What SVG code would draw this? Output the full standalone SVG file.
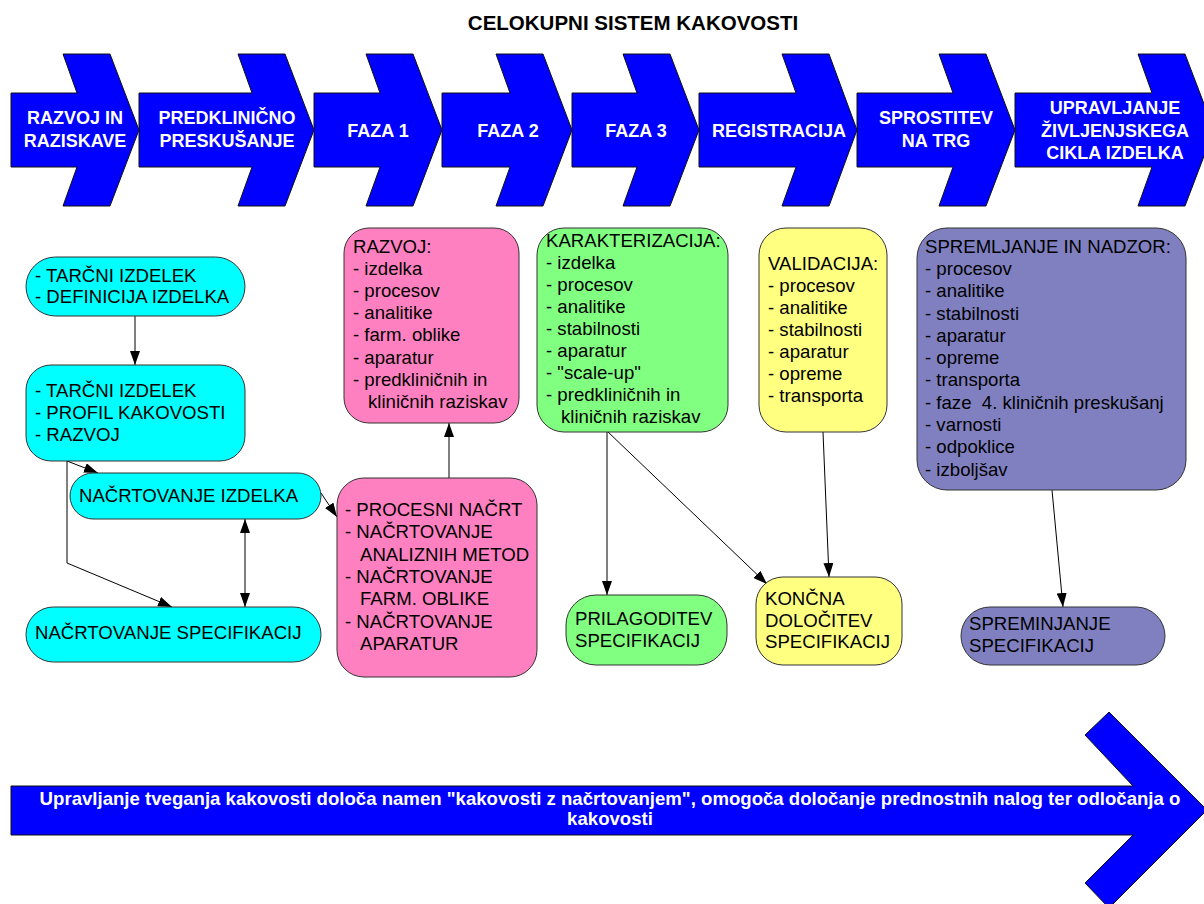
<svg xmlns="http://www.w3.org/2000/svg" width="1204" height="904" viewBox="0 0 1204 904">
<style>
.bar{fill:#0000FF;stroke:#111;stroke-width:1}
.bt{font-family:"Liberation Sans",Arial,sans-serif;font-weight:bold;font-size:18px;fill:#fff;text-anchor:middle}
.bl{font-size:18.6px}
.t{font-family:"Liberation Sans",Arial,sans-serif;font-size:18.6px;fill:#000}
.cy{fill:#00FFFF;stroke:#333;stroke-width:1}
.pk{fill:#FF80C0;stroke:#333;stroke-width:1}
.gr{fill:#80FF80;stroke:#333;stroke-width:1}
.ye{fill:#FFFF80;stroke:#333;stroke-width:1}
.pu{fill:#8080C0;stroke:#333;stroke-width:1}
.c{fill:none;stroke:#000;stroke-width:1}
</style>
<defs>
<marker id="ah" markerUnits="userSpaceOnUse" markerWidth="14" markerHeight="10" refX="14" refY="5" orient="auto-start-reverse">
<path d="M0,0 L14,5 L0,10 z" fill="#000"/>
</marker>
</defs>
<rect width="1204" height="904" fill="#fff"/>
<text x="633" y="30" font-family="Liberation Sans,Arial,sans-serif" font-weight="bold" font-size="20.5" text-anchor="middle">CELOKUPNI SISTEM KAKOVOSTI</text>

<g id="phase1"><polygon class="bar" points="11,93 77,93 63,54 110,54 139,130 110,206 63,206 77,167 11,167"/><text class="bt" x="75" y="124">RAZVOJ IN</text><text class="bt" x="75" y="147">RAZISKAVE</text></g>
<g id="phase2"><polygon class="bar" points="139,93 252,93 238,54 285,54 314,130 285,206 238,206 252,167 139,167"/><text class="bt" x="227" y="124">PREDKLINIČNO</text><text class="bt" x="227" y="147">PRESKUŠANJE</text></g>
<g id="phase3"><polygon class="bar" points="314,93 380,93 366,54 413,54 442,130 413,206 366,206 380,167 314,167"/><text class="bt" x="378" y="137">FAZA 1</text></g>
<g id="phase4"><polygon class="bar" points="442,93 510,93 496,54 543,54 572,130 543,206 496,206 510,167 442,167"/><text class="bt" x="508" y="137">FAZA 2</text></g>
<g id="phase5"><polygon class="bar" points="572,93 637,93 623,54 670,54 699,130 670,206 623,206 637,167 572,167"/><text class="bt" x="636" y="137">FAZA 3</text></g>
<g id="phase6"><polygon class="bar" points="699,93 796,93 782,54 829,54 857,130 829,206 782,206 796,167 699,167"/><text class="bt" x="779" y="137">REGISTRACIJA</text></g>
<g id="phase7"><polygon class="bar" points="857,93 953,93 939,54 986,54 1015,130 986,206 939,206 953,167 857,167"/><text class="bt" x="936" y="124">SPROSTITEV</text><text class="bt" x="936" y="147">NA TRG</text></g>
<g id="phase8"><polygon class="bar" points="1015,93 1152,93 1138,54 1185,54 1214,130 1185,206 1138,206 1152,167 1015,167"/><text class="bt" x="1115" y="114">UPRAVLJANJE</text><text class="bt" x="1115" y="137">ŽIVLJENJSKEGA</text><text class="bt" x="1115" y="159">CIKLA IZDELKA</text></g>

<g id="connectors">
<line class="c" x1="135" y1="316" x2="135" y2="365" marker-end="url(#ah)"/>
<line class="c" x1="67" y1="461" x2="98" y2="473" marker-end="url(#ah)"/>
<polyline class="c" points="67,461 67,563 172,607" marker-end="url(#ah)"/>
<line class="c" x1="245" y1="519" x2="245" y2="607" marker-start="url(#ah)" marker-end="url(#ah)"/>
<line class="c" x1="321" y1="493" x2="337" y2="517" marker-end="url(#ah)"/>
<line class="c" x1="449" y1="478" x2="449" y2="423" marker-end="url(#ah)"/>
<line class="c" x1="607" y1="432" x2="607" y2="595" marker-end="url(#ah)"/>
<line class="c" x1="608" y1="432" x2="767" y2="584" marker-end="url(#ah)"/>
<line class="c" x1="823" y1="432" x2="829" y2="577" marker-end="url(#ah)"/>
<line class="c" x1="1052" y1="490" x2="1063" y2="607" marker-end="url(#ah)"/>
</g>

<g id="nodeA"><rect class="cy" x="26" y="257" width="219" height="59" rx="29.5"/><text class="t" x="35" y="282">- TARČNI IZDELEK</text><text class="t" x="35" y="303">- DEFINICIJA IZDELKA</text></g>
<g id="nodeB"><rect class="cy" x="26" y="365" width="219" height="96" rx="25"/><text class="t" x="35" y="397">- TARČNI IZDELEK</text><text class="t" x="35" y="419">- PROFIL KAKOVOSTI</text><text class="t" x="35" y="441">- RAZVOJ</text></g>
<g id="nodeC"><rect class="cy" x="70" y="473" width="251" height="46" rx="23"/><text class="t" x="79" y="502">NAČRTOVANJE IZDELKA</text></g>
<g id="nodeD"><rect class="cy" x="26" y="607" width="295" height="55" rx="27.5"/><text class="t" x="35" y="639">NAČRTOVANJE SPECIFIKACIJ</text></g>

<g id="nodeP1"><rect class="pk" x="344" y="228" width="175" height="195" rx="25"/>
<text class="t" x="353" y="253">RAZVOJ:</text><text class="t" x="353" y="275">- izdelka</text><text class="t" x="353" y="297">- procesov</text><text class="t" x="353" y="319">- analitike</text><text class="t" x="353" y="341">- farm. oblike</text><text class="t" x="353" y="364">- aparatur</text><text class="t" x="353" y="386">- predkliničnih in</text><text class="t" x="368" y="408">kliničnih raziskav</text></g>
<g id="nodeP2"><rect class="pk" x="337" y="478" width="200" height="199" rx="27"/>
<text class="t" x="345" y="516">- PROCESNI NAČRT</text><text class="t" x="345" y="538">- NAČRTOVANJE</text><text class="t" x="360" y="561">ANALIZNIH METOD</text><text class="t" x="345" y="583">- NAČRTOVANJE</text><text class="t" x="360" y="605">FARM. OBLIKE</text><text class="t" x="345" y="628">- NAČRTOVANJE</text><text class="t" x="360" y="650">APARATUR</text></g>

<g id="nodeG1"><rect class="gr" x="537" y="228" width="191" height="204" rx="27"/>
<text class="t" x="546" y="247">KARAKTERIZACIJA:</text><text class="t" x="546" y="269">- izdelka</text><text class="t" x="546" y="291">- procesov</text><text class="t" x="546" y="313">- analitike</text><text class="t" x="546" y="335">- stabilnosti</text><text class="t" x="546" y="357">- aparatur</text><text class="t" x="546" y="379">- "scale-up"</text><text class="t" x="546" y="401">- predkliničnih in</text><text class="t" x="561" y="423">kliničnih raziskav</text></g>
<g id="nodeG2"><rect class="gr" x="566" y="595" width="161" height="70" rx="30"/><text class="t" x="575" y="625">PRILAGODITEV</text><text class="t" x="575" y="647">SPECIFIKACIJ</text></g>

<g id="nodeY1"><rect class="ye" x="759" y="228" width="128" height="204" rx="27"/>
<text class="t" x="768" y="270">VALIDACIJA:</text><text class="t" x="768" y="292">- procesov</text><text class="t" x="768" y="314">- analitike</text><text class="t" x="768" y="336">- stabilnosti</text><text class="t" x="768" y="358">- aparatur</text><text class="t" x="768" y="380">- opreme</text><text class="t" x="768" y="402">- transporta</text></g>
<g id="nodeY2"><rect class="ye" x="756" y="577" width="146" height="88" rx="27"/><text class="t" x="765" y="605">KONČNA</text><text class="t" x="765" y="627">DOLOČITEV</text><text class="t" x="765" y="648">SPECIFIKACIJ</text></g>

<g id="nodeU1"><rect class="pu" x="917" y="228" width="269" height="262" rx="30"/>
<text class="t" x="925" y="253">SPREMLJANJE IN NADZOR:</text><text class="t" x="925" y="275">- procesov</text><text class="t" x="925" y="297">- analitike</text><text class="t" x="925" y="320">- stabilnosti</text><text class="t" x="925" y="342">- aparatur</text><text class="t" x="925" y="364">- opreme</text><text class="t" x="925" y="386">- transporta</text><text class="t" x="925" y="409" xml:space="preserve" style="white-space:pre">- faze  4. kliničnih preskušanj</text><text class="t" x="925" y="431">- varnosti</text><text class="t" x="925" y="453">- odpoklice</text><text class="t" x="925" y="476">- izboljšav</text></g>
<g id="nodeU2"><rect class="pu" x="961" y="607" width="204" height="58" rx="29"/><text class="t" x="969" y="630">SPREMINJANJE</text><text class="t" x="969" y="652">SPECIFIKACIJ</text></g>

<g id="riskArrow"><polygon class="bar" points="11,786 1133,786 1085,735 1109,712 1207,810 1109,908 1085,883 1133,835 11,835"/>
<text class="bt bl" x="610" y="805">Upravljanje tveganja kakovosti določa namen "kakovosti z načrtovanjem", omogoča določanje prednostnih nalog ter odločanja o</text>
<text class="bt bl" x="610" y="825">kakovosti</text></g>
</svg>
